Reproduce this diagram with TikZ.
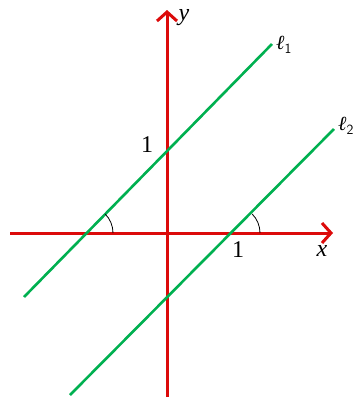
\documentclass[tikz,border=0pt]{standalone}
\usepackage{fontspec}
\setmainfont{Liberation Serif}
\usetikzlibrary{arrows.meta}
\definecolor{axred}{RGB}{220,10,10}
\definecolor{lgreen}{RGB}{0,176,80}
\tikzset{
  axis/.style={draw=axred,line width=3pt,-{Straight Barb[length=9pt,width=20pt,line width=3pt]}},
  gline/.style={draw=lgreen,line width=2.6pt},
  anglearc/.style={draw=black,line width=0.8pt},
  lbl/.style={inner sep=0pt,font=\fontsize{24}{24}\selectfont},
  llbl/.style={inner sep=0pt,font=\fontsize{20}{20}\selectfont}
}
\begin{document}
\begin{tikzpicture}[x=1pt,y=-1pt]
\useasboundingbox (0,0) rectangle (354,399);
\coordinate (O) at (167,233);
\coordinate (xs) at (10,233);
\coordinate (xe) at (333,233);
\coordinate (ys) at (167,397);
\coordinate (ye) at (167,10);
\draw[axis] (xs) -- (xe);
\draw[axis] (ys) -- (ye);
\coordinate (a1) at (24,297);
\coordinate (b1) at (272,44);
\coordinate (a2) at (70,395);
\coordinate (b2) at (334,129);
\draw[gline] (a1) -- (b1);
\draw[gline] (a2) -- (b2);
\coordinate (p1) at (86,233);
\coordinate (p2) at (233,233);
\draw[anglearc] ([xshift=27pt]p1) arc[start angle=0,end angle=45,radius=27pt];
\draw[anglearc] ([xshift=27pt]p2) arc[start angle=0,end angle=45,radius=27pt];
\node[lbl,anchor=base] (ylab) at (184,20) {\textit{y}};
\node[lbl] (xlab) at (322,251) {\textit{x}};
\node[lbl] (one1) at (147,145) {1};
\node[lbl] (one2) at (238,250) {1};
\node[llbl,anchor=west] (l1) at (276,45) {\textit{ℓ}\raisebox{-4pt}{\sffamily\fontsize{14}{14}\selectfont 1}};
\node[llbl,anchor=west] (l2) at (338,126) {\textit{ℓ}\raisebox{-4pt}{\sffamily\fontsize{14}{14}\selectfont 2}};
\end{tikzpicture}
\end{document}
